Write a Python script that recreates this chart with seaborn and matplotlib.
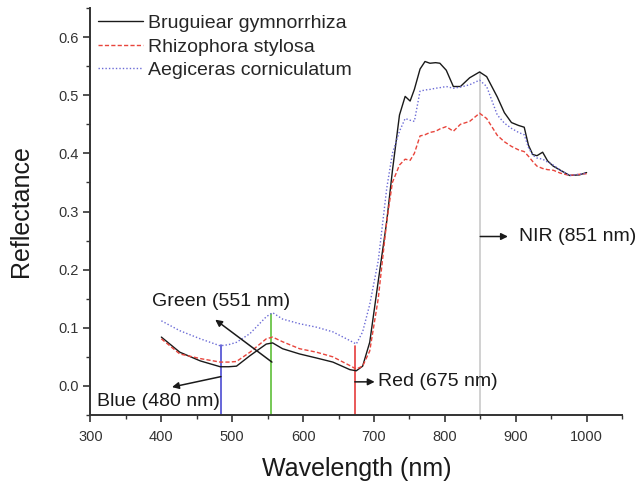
import numpy as np
import pandas as pd
import matplotlib
matplotlib.use("Agg")
import matplotlib.pyplot as plt
from matplotlib.ticker import AutoMinorLocator, MultipleLocator, FormatStrFormatter
import seaborn as sns

# ---- data ----
wavelength = [400, 426, 455, 483, 495, 506, 525, 548, 557, 571, 595, 619, 642, 666, 675, 684,
              694, 706, 718, 726, 736, 744, 751, 757, 765, 772, 779, 787, 793, 802, 812, 822,
              835, 849, 859, 874, 884, 894, 904, 912, 918, 924, 930, 938, 945, 953, 963, 976,
              990, 1000]

bruguiera = [0.084, 0.058, 0.043, 0.033, 0.033, 0.034, 0.052, 0.072, 0.074, 0.064, 0.055, 0.048,
             0.041, 0.028, 0.026, 0.034, 0.075, 0.18, 0.283, 0.37, 0.466, 0.498, 0.49, 0.51,
             0.545, 0.558, 0.555, 0.556, 0.555, 0.543, 0.515, 0.515, 0.53, 0.54, 0.532, 0.497,
             0.47, 0.453, 0.448, 0.445, 0.414, 0.398, 0.396, 0.402, 0.387, 0.378, 0.371, 0.362,
             0.363, 0.367]

rhizophora = [0.081, 0.055, 0.047, 0.041, 0.041, 0.042, 0.058, 0.081, 0.084, 0.076, 0.064, 0.058,
              0.050, 0.035, 0.029, 0.034, 0.06, 0.15, 0.283, 0.35, 0.38, 0.39, 0.388, 0.40,
              0.43, 0.432, 0.436, 0.438, 0.442, 0.446, 0.438, 0.45, 0.455, 0.469, 0.46, 0.431,
              0.42, 0.412, 0.406, 0.403, 0.395, 0.386, 0.378, 0.374, 0.372, 0.371, 0.366, 0.362,
              0.364, 0.365]

aegiceras = [0.112, 0.095, 0.081, 0.069, 0.071, 0.075, 0.090, 0.119, 0.126, 0.115, 0.107, 0.101,
             0.093, 0.078, 0.072, 0.093, 0.140, 0.215, 0.34, 0.40, 0.438, 0.46, 0.457, 0.455,
             0.507, 0.509, 0.51, 0.512, 0.513, 0.515, 0.512, 0.514, 0.518, 0.526, 0.515, 0.466,
             0.452, 0.443, 0.436, 0.432, 0.41, 0.397, 0.392, 0.39, 0.385, 0.38, 0.371, 0.362,
             0.364, 0.366]

series_names = ["Bruguiear gymnorrhiza", "Rhizophora stylosa", "Aegiceras corniculatum"]
band_names = ["Blue (480 nm)", "Green (551 nm)", "Red (675 nm)", "NIR (851 nm)"]
band_lines = [484, 555, 673, 850]
band_tops = [0.070, 0.124, 0.069, 0.54]

df = pd.DataFrame({
    "Wavelength": wavelength * 3,
    "Reflectance": bruguiera + rhizophora + aegiceras,
    "Species": [series_names[0]] * len(wavelength) + [series_names[1]] * len(wavelength)
               + [series_names[2]] * len(wavelength),
})

sns.set_theme(style="ticks")
plt.rcParams['font.family'] = ['Liberation Sans', 'DejaVu Sans']

fig = plt.figure(figsize=(6.4, 4.83), dpi=100)
ax = fig.add_axes([0.1414, 0.1408, 0.8305, 0.8426])

styles = {series_names[0]: ("#1a1a1a", "-", 1.0),
          series_names[1]: ("#e8453c", (0, (3, 1.6)), 1.0),
          series_names[2]: ("#6b6bd6", (0, (1, 1.5)), 1.0)}

for name in series_names:
    col, ls, lw = styles[name]
    sns.lineplot(data=df[df["Species"] == name], x="Wavelength", y="Reflectance",
                 ax=ax, color=col, linestyle=ls, linewidth=lw, label=name)

# band lines
band_colors = ["#4b4bd2", "#5dbf38", "#e53c3c", "#c9c9c9"]
for wl, top, c in zip(band_lines, band_tops, band_colors):
    ax.plot([wl, wl], [-0.05, top], color=c, lw=1.2, zorder=1)

arrow = dict(arrowstyle="-|>", color="#1a1a1a", lw=1.1, mutation_scale=10, shrinkA=0, shrinkB=0)
fs = 14
tc = "#1a1a1a"
ax.annotate("", xy=(415, -0.002), xytext=(484, 0.016), arrowprops=arrow)
ax.text(309, -0.026, band_names[0], fontsize=fs, va="center", ha="left", color=tc)

ax.annotate("", xy=(476, 0.114), xytext=(556, 0.041), arrowprops=arrow)
ax.text(387, 0.145, band_names[1], fontsize=fs, va="center", ha="left", color=tc)

ax.annotate("", xy=(701, 0.007), xytext=(673, 0.007), arrowprops=arrow)
ax.text(705, 0.007, band_names[2], fontsize=fs, va="center", ha="left", color=tc)

ax.annotate("", xy=(889, 0.257), xytext=(850, 0.257), arrowprops=arrow)
ax.text(905, 0.257, band_names[3], fontsize=fs, va="center", ha="left", color=tc)

ax.set_xticks(range(300, 1001, 100))
ax.set_yticks([0.0, 0.1, 0.2, 0.3, 0.4, 0.5, 0.6])
ax.xaxis.set_minor_locator(AutoMinorLocator(2))
ax.yaxis.set_minor_locator(AutoMinorLocator(2))
ax.set_xlim(300, 1050)
ax.set_ylim(-0.05, 0.65)
ax.yaxis.set_major_formatter(FormatStrFormatter("%.1f"))

ax.tick_params(axis="both", which="major", length=5, width=1.2, labelsize=10.5,
               colors="#333333", direction="out")
ax.tick_params(axis="x", which="major", pad=6)
ax.tick_params(axis="both", which="minor", length=3, width=1.0, colors="#333333", direction="out")
for s in ["left", "bottom"]:
    ax.spines[s].set_linewidth(1.4)
    ax.spines[s].set_color("#333333")
sns.despine(ax=ax)

ax.set_xlabel("Wavelength (nm)", fontsize=18, color=tc, labelpad=9)
ax.set_ylabel("Reflectance", fontsize=18, color=tc, labelpad=18)

leg = ax.legend(loc="upper left", bbox_to_anchor=(0.015, 0.984), frameon=False, fontsize=14,
                handlelength=2.3, handletextpad=0.25, labelspacing=0.3, borderaxespad=0,
                borderpad=0)

fig.savefig("out.png", dpi=100)
